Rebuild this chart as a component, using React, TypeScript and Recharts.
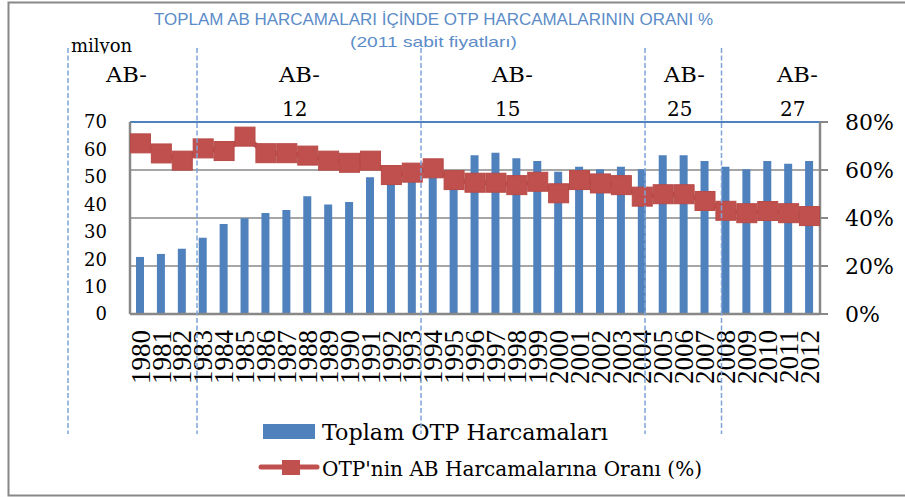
import React from "react";
import {
  ComposedChart,
  Bar,
  Line,
  XAxis,
  YAxis,
  CartesianGrid,
  ReferenceLine,
  Legend,
} from "recharts";

const years = [
  "1980", "1981", "1982", "1983", "1984", "1985", "1986", "1987", "1988",
  "1989", "1990", "1991", "1992", "1993", "1994", "1995", "1996", "1997",
  "1998", "1999", "2000", "2001", "2002", "2003", "2004", "2005", "2006",
  "2007", "2008", "2009", "2010", "2011", "2012",
];

// milyon (left axis)
const totalSpending = [
  20.8, 21.9, 23.8, 27.8, 32.8, 34.9, 36.8, 37.9, 42.9, 39.9, 40.8, 49.9,
  48, 50, 51, 52, 57.9, 58.8, 56.8, 55.8, 51.9, 53.7, 52.8, 53.7, 52.8,
  57.9, 57.9, 55.8, 53.7, 52.8, 55.8, 54.8, 55.8,
];

// % (right axis)
const shareOfBudget = [
  71.1, 66.9, 63.9, 69, 67.9, 73.9, 67, 67, 66, 63.9, 63, 63.9, 57.9, 58.9,
  60.7, 55.8, 54.7, 54.7, 53.7, 55.1, 50.3, 55.8, 54.4, 53.7, 48.9, 49.9,
  49.9, 47.1, 43, 42, 42.9, 42, 40.8,
];

const leftTicks = [0, 10, 20, 30, 40, 50, 60, 70];
const rightTicks = [0, 20, 40, 60, 80];

const enlargements = [
  { top: "AB-", bottom: "", x: 106 },
  { top: "AB-", bottom: "12", x: 279 },
  { top: "AB-", bottom: "15", x: 492 },
  { top: "AB-", bottom: "25", x: 664 },
  { top: "AB-", bottom: "27", x: 777 },
];
const dividers = [68, 197, 421, 645, 721.5];

const data = years.map((year, i) => ({
  year,
  total: totalSpending[i],
  share: shareOfBudget[i],
}));

const BLUE = "#4F81BD";
const RED = "#C0504D";
const GREY = "#888888";
const SERIF = "'DejaVu Serif', serif";

const SquareDot = (props: any) => {
  const { cx, cy, index } = props;
  if (cx == null || cy == null) return null;
  return (
    <rect
      key={`dot-${index}`}
      x={cx - 10}
      y={cy - 9.5}
      width={20}
      height={19}
      fill={RED}
      stroke="#B84A47"
      strokeWidth={1}
    />
  );
};

const YearTick = (props: any) => {
  const { x, y, payload } = props;
  return (
    <text
      x={x}
      y={y}
      dy="0.34em"
      textAnchor="end"
      transform={`rotate(-90, ${x}, ${y})`}
      fontFamily="'Liberation Serif', serif"
      fontSize={27}
      fill="#000"
    >
      {payload.value}
    </text>
  );
};

const LegendContent = (props: any) => {
  const items = props.payload || [];
  const barItem = items.find((p: any) => p.type === "rect") || items[0];
  const lineItem = items.find((p: any) => p.type === "line") || items[1];
  return (
    <svg width={470} height={72} style={{ display: "block" }}>
      <rect x={8} y={12} width={52} height={15} fill={barItem?.color || BLUE} />
      <text
        x={67}
        y={27.5}
        fontFamily={SERIF}
        fontSize={23}
        textLength={286}
        lengthAdjust="spacingAndGlyphs"
        fill="#000"
      >
        {barItem?.value}
      </text>
      <line x1={6} x2={62} y1={55} y2={55} stroke={RED} strokeWidth={5} strokeLinecap="round" />
      <rect x={27} y={48} width={18} height={15} fill={RED} />
      <text
        x={67}
        y={64}
        fontFamily={SERIF}
        fontSize={21}
        textLength={380}
        lengthAdjust="spacingAndGlyphs"
        fill="#000"
      >
        {lineItem?.value}
      </text>
    </svg>
  );
};

export default function App() {
  return (
    <div
      style={{
        position: "fixed",
        left: 0,
        top: 0,
        width: 905,
        height: 497,
        background: "#fff",
      }}
    >
      <ComposedChart
        width={905}
        height={497}
        data={data}
        margin={{ top: 122, right: 0, bottom: 0, left: 0 }}
      >
        <CartesianGrid
          yAxisId="right"
          vertical={false}
          stroke={GREY}
          strokeWidth={1.5}
        />
        <XAxis
          dataKey="year"
          interval={0}
          height={183}
          tickLine={false}
          axisLine={{ stroke: GREY, strokeWidth: 2.5 }}
          tickMargin={10}
          tick={<YearTick />}
        />
        <YAxis
          yAxisId="left"
          width={130}
          domain={[0, 70]}
          ticks={leftTicks}
          tickLine={false}
          tickMargin={17}
          axisLine={{ stroke: GREY, strokeWidth: 2.5 }}
          tick={{ fill: "#000", fontSize: 18, fontFamily: SERIF }}
        />
        <YAxis
          yAxisId="right"
          orientation="right"
          width={85}
          domain={[0, 80]}
          ticks={rightTicks}
          tickSize={8}
          tickMargin={17}
          tickFormatter={(v: number) => `${v}%`}
          axisLine={{ stroke: GREY, strokeWidth: 2.5 }}
          tickLine={{ stroke: GREY, strokeWidth: 2 }}
          tick={{ fill: "#000", fontSize: 22, fontFamily: SERIF, textAnchor: "start" }}
        />
        <ReferenceLine yAxisId="right" y={80} stroke={BLUE} strokeWidth={2} />
        <Bar
          yAxisId="left"
          dataKey="total"
          name="Toplam OTP Harcamaları"
          fill={BLUE}
          barSize={8}
          isAnimationActive={false}
        />
        <Line
          yAxisId="right"
          dataKey="share"
          name="OTP'nin AB Harcamalarına Oranı (%)"
          stroke={RED}
          strokeWidth={5}
          dot={<SquareDot />}
          activeDot={false}
          isAnimationActive={false}
        />
        <Legend
          layout="horizontal"
          verticalAlign="middle"
          align="center"
          wrapperStyle={{ top: 412, left: 255, width: 470, height: 72 }}
          content={<LegendContent />}
        />
      </ComposedChart>
      <svg
        width={905}
        height={497}
        style={{ position: "absolute", left: 0, top: 0, pointerEvents: "none" }}
      >
        <defs>
          <clipPath id="milyonClip">
            <rect x={0} y={0} width={200} height={53.5} />
          </clipPath>
        </defs>
        <rect x={8.5} y={2.5} width={910} height={493} fill="none" stroke={GREY} strokeWidth={2} />
        <text
          x={433.5}
          y={25}
          textAnchor="middle"
          fontFamily="'Liberation Sans', sans-serif"
          fontSize={16}
          fill="#5B8CC8"
          textLength={559}
          lengthAdjust="spacingAndGlyphs"
        >
          TOPLAM AB HARCAMALARI İÇİNDE OTP HARCAMALARININ ORANI %
        </text>
        <text
          x={433.5}
          y={47}
          textAnchor="middle"
          fontFamily="'Liberation Sans', sans-serif"
          fontSize={15}
          fill="#5B8CC8"
          textLength={167}
          lengthAdjust="spacingAndGlyphs"
        >
          (2011 sabit fiyatları)
        </text>
        <text
          x={71}
          y={52}
          fontFamily={SERIF}
          fontSize={18}
          fill="#000"
          clipPath="url(#milyonClip)"
        >
          milyon
        </text>
        {enlargements.map((e) => (
          <g key={e.x} fontFamily={SERIF} fontSize={20} fill="#000">
            <text x={e.x} y={82} textLength={41} lengthAdjust="spacingAndGlyphs">
              {e.top}
            </text>
            {e.bottom && (
              <text x={e.x + 3} y={116}>
                {e.bottom}
              </text>
            )}
          </g>
        ))}
        {dividers.map((x) => (
          <line
            key={x}
            x1={x}
            x2={x}
            y1={48}
            y2={434}
            stroke="#7EA4D8"
            strokeWidth={1.5}
            strokeDasharray="5 2.5"
          />
        ))}
      </svg>
    </div>
  );
}
